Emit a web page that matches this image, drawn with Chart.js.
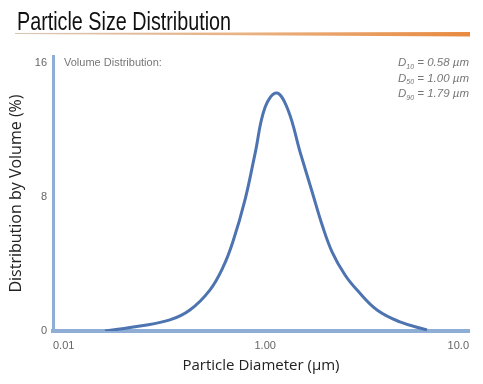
<!DOCTYPE html>
<html><head><meta charset="utf-8">
<script src="https://cdn.jsdelivr.net/npm/chart.js@4"></script>
<style>html,body{margin:0;padding:0;background:#fff}#wrap{width:483px;height:384px;position:relative}</style>
</head><body><div id="wrap"><canvas id="c"></canvas></div>
<script>
const titleText = 'Particle Size Distribution';
const xAxisTitle = 'Particle Diameter (µm)';
const yAxisTitle = 'Distribution by Volume (%)';
const seriesLabel = 'Volume Distribution:';
// x tick labels and their positions along the (non-uniform) diameter axis, in axis units 0..100
const tickLabelsX = ['0.01', '1.00', '10.0'];
const tickPosX = [0, 51, 100];
const tickValuesY = [0, 8, 16];
// curve positions along the diameter axis (axis units) and volume (%)
const xPos   = [12.5, 20.9, 28.1, 32.9, 37.7, 40.9, 43.3, 46.2, 48.6, 51.0, 53.8, 56.5, 59.4, 62.3, 64.7, 67.1, 70.2, 73.1, 77.9, 83.4, 89.9];
const volume = [0.0, 0.30, 0.66, 1.25, 2.44, 3.82, 5.37, 7.87, 10.61, 13.36, 14.19, 13.18, 10.67, 8.29, 6.32, 4.71, 3.34, 2.44, 1.25, 0.54, 0.06];
const dLabels = ['10', '50', '90'];
const dValues = ['0.58', '1.00', '1.79'];

const decor = {
  id: 'decor',
  afterDraw(chart) {
    const ctx = chart.ctx;
    ctx.save();
    // title
    ctx.fillStyle = '#111';
    ctx.font = '25px "Liberation Sans Narrow", "Liberation Sans", Arial, sans-serif';
    ctx.textBaseline = 'alphabetic';
    const w = ctx.measureText(titleText).width;
    ctx.save();
    ctx.translate(17, 30);
    ctx.scale(214 / w, 1);
    ctx.fillText(titleText, 0, 0);
    ctx.restore();
    // orange underline
    const g = ctx.createLinearGradient(15, 0, 470, 0);
    g.addColorStop(0, '#d8c6b6');
    g.addColorStop(0.5, '#e9b283');
    g.addColorStop(1, '#e88a40');
    ctx.fillStyle = g;
    ctx.beginPath();
    ctx.moveTo(15, 33);
    ctx.lineTo(470, 32);
    ctx.lineTo(470, 36.5);
    ctx.lineTo(15, 34);
    ctx.closePath();
    ctx.fill();
    // series label
    ctx.fillStyle = '#777';
    ctx.font = '11px "Liberation Sans", Arial, sans-serif';
    ctx.textBaseline = 'middle';
    ctx.textAlign = 'left';
    ctx.fillText(seriesLabel, 64, 63);
    // D stats
    const right = 469;
    const ys = [63, 78.5, 94];
    for (let i = 0; i < dLabels.length; i++) {
      const main = ' = ' + dValues[i] + ' µm';
      ctx.font = 'italic 11.5px "Liberation Sans", Arial, sans-serif';
      const wm = ctx.measureText(main).width;
      const wd = ctx.measureText('D').width;
      ctx.font = 'italic 7px "Liberation Sans", Arial, sans-serif';
      const ws = ctx.measureText(dLabels[i]).width;
      let x = right - wm - ws - wd;
      ctx.font = 'italic 11.5px "Liberation Sans", Arial, sans-serif';
      ctx.fillText('D', x, ys[i]);
      ctx.fillText(main, x + wd + ws, ys[i]);
      ctx.font = 'italic 7px "Liberation Sans", Arial, sans-serif';
      ctx.fillText(dLabels[i], x + wd, ys[i] + 4);
    }
    ctx.restore();
  }
};

new Chart(document.getElementById('c'), {
  type: 'line',
  data: {
    datasets: [{
      label: seriesLabel,
      data: xPos.map((x, i) => ({ x: x, y: volume[i] })),
      borderColor: '#4e73b1',
      borderWidth: 3,
      pointRadius: 0,
      tension: 0.4,
      fill: false
    }]
  },
  options: {
    responsive: true,
    maintainAspectRatio: false,
    animation: false,
    layout: { padding: { top: 56, right: 14, left: 0, bottom: 0 } },
    plugins: { legend: { display: false }, tooltip: { enabled: false } },
    scales: {
      x: {
        type: 'linear', min: 0, max: 100,
        afterFit(s) { s.height = 53; },
        afterBuildTicks(s) { s.ticks = tickPosX.map(v => ({ value: v })); },
        grid: { display: false, drawTicks: false },
        border: { display: true, color: '#8eaed6', width: 4 },
        ticks: {
          align: 'inner', padding: 8, color: '#666',
          font: { family: '"Liberation Sans", Arial, sans-serif', size: 11 },
          callback: (v) => { const i = tickPosX.indexOf(v); return i >= 0 ? tickLabelsX[i] : ''; }
        },
        title: {
          display: true, text: xAxisTitle, color: '#222',
          font: { family: '"Open Sans", sans-serif', size: 15 },
          padding: { top: 4, bottom: 9 }
        }
      },
      y: {
        type: 'linear', min: 0, max: 16.4,
        afterFit(s) { s.width = 53; },
        afterBuildTicks(s) { s.ticks = tickValuesY.map(v => ({ value: v })); },
        grid: { display: false, drawTicks: false },
        border: { display: true, color: '#8eaed6', width: 3 },
        ticks: {
          padding: 6, color: '#666',
          font: { family: '"Liberation Sans", Arial, sans-serif', size: 11 }
        },
        title: {
          display: true, text: yAxisTitle, color: '#222',
          font: { family: '"Open Sans", sans-serif', size: 16 },
          padding: { top: 7, bottom: 4 }
        }
      }
    }
  },
  plugins: [decor]
});
</script></body></html>
